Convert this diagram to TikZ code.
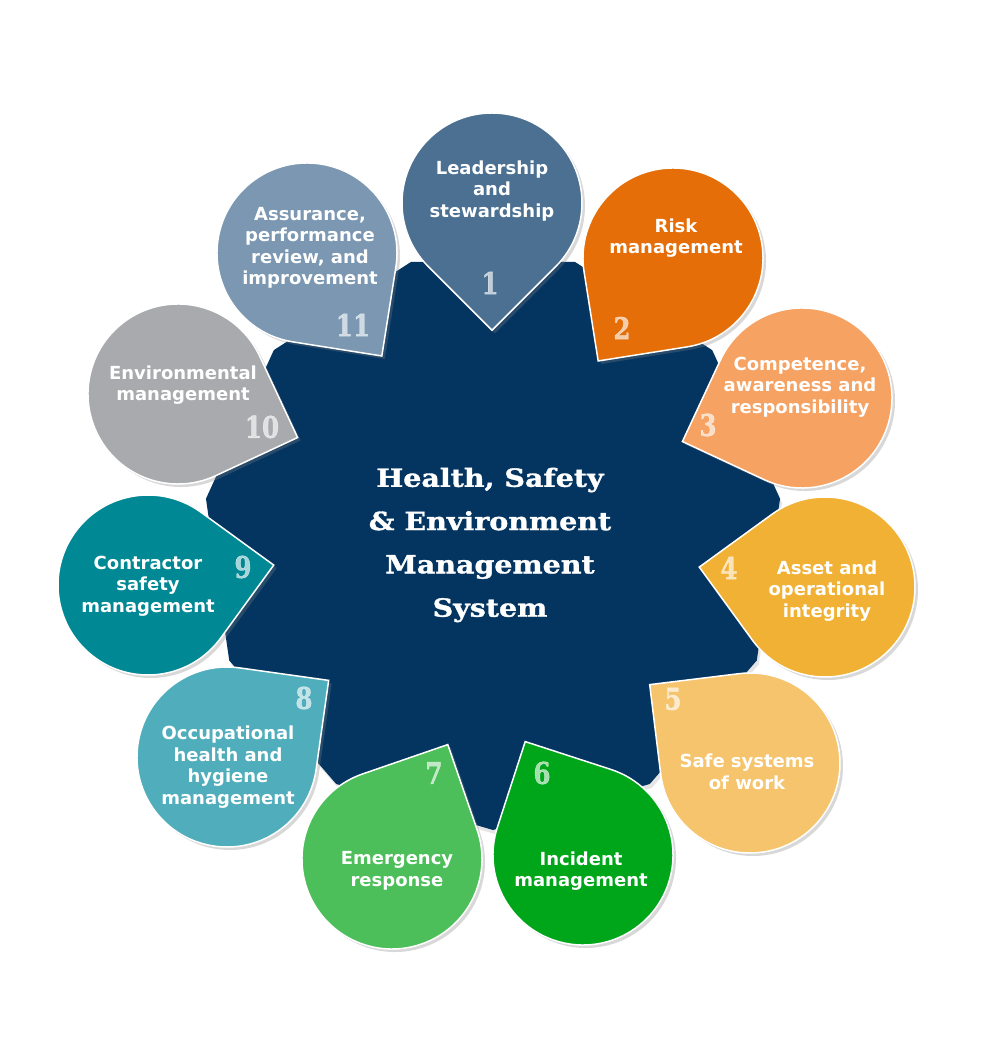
\documentclass[tikz,border=0pt]{standalone}
\usepackage{fontspec}
\setmainfont{DejaVu Sans}
\newfontfamily\hsetitle{DejaVu Serif Bold}[FakeBold=1.2]
\usetikzlibrary{shadows}
\definecolor{hsenavy}{RGB}{4,53,97}
\definecolor{hseone}{RGB}{75,112,146}
\definecolor{hsetwo}{RGB}{229,110,8}
\definecolor{hsethree}{RGB}{245,162,99}
\definecolor{hsefour}{RGB}{241,177,52}
\definecolor{hsefive}{RGB}{246,196,108}
\definecolor{hsesix}{RGB}{0,166,25}
\definecolor{hseseven}{RGB}{76,190,90}
\definecolor{hseeight}{RGB}{80,174,188}
\definecolor{hsenine}{RGB}{0,136,148}
\definecolor{hseten}{RGB}{169,170,173}
\definecolor{hseeleven}{RGB}{123,151,178}
\tikzset{
  petal/.style={fill=#1, draw=white, line width=1.5pt,
    drop shadow={shadow xshift=3pt, shadow yshift=-3pt, opacity=0.3}},
  petaltext/.style={text=white, align=center, font=\bfseries\fontsize{18}{21.5}\selectfont},
  petalnum/.style={text=white, text opacity=0.65, xscale=0.82, font=\hsetitle\fontsize{30}{30}\selectfont},
  titletext/.style={text=white, align=center, xscale=1.14, font=\hsetitle\fontsize{25}{43.3}\selectfont}
}
\begin{document}
\begin{tikzpicture}[x=1pt,y=1pt]
\def\petal{(127.3,0) -- (45:90) arc[start angle=45, end angle=315, radius=90] -- cycle}
\fill[white] (-493,-524) rectangle (507,540);
\useasboundingbox (-493,-524) rectangle (507,540);
% centre: eleven sided plate
\fill[hsenavy, drop shadow={shadow xshift=2pt, shadow yshift=-4pt, opacity=0.2}]
  (-90:290) \foreach \k in {1,...,10} { -- (-90+\k*32.7273:290) } -- cycle;
\node[titletext] (title) at (-3,-5) {Health, Safety\\\& Environment\\Management\\System};
% petals: number / centre / tip angle / colour / number position
\foreach \i/\cx/\cy/\tip/\col/\nx/\ny in {
  1/-1/337/-90/hseone/-3/257, 2/180/282/-126/hsetwo/129/212,
  3/309/142/-160/hsethree/215/115, 4/332/-47/171/hsefour/236/-28,
  5/257/-223/142/hsefive/180/-159, 6/90/-315/117/hsesix/49/-233,
  7/-101/-319/64/hseseven/-59/-233, 8/-266/-217/37/hseeight/-189/-158,
  9/-345/-45/9/hsenine/-250/-27, 10/-315/146/-20/hseten/-231/113,
  11/-186/287/-54/hseeleven/-140/215} {
  \filldraw[petal=\col, shift={(\cx,\cy)}, rotate=\tip] \petal;
  \node[petalnum] (n\i) at (\nx,\ny) {\i};
}
\node[petaltext] (t1) at (-1,349) {Leadership\\and\\stewardship};
\node[petaltext] (t2) at (183,302) {Risk\\management};
\node[petaltext] (t3) at (307,153) {Competence,\\awareness and\\responsibility};
\node[petaltext] (t4) at (334,-51) {Asset and\\operational\\integrity};
\node[petaltext] (t5) at (254,-232) {Safe systems\\of work};
\node[petaltext] (t6) at (88,-331) {Incident\\management};
\node[petaltext] (t7) at (-96,-331) {Emergency\\response};
\node[petaltext] (t8) at (-265,-227) {Occupational\\health and\\hygiene\\management};
\node[petaltext] (t9) at (-345,-46) {Contractor\\safety\\management};
\node[petaltext] (t10) at (-310,155) {Environmental\\management};
\node[petaltext] (t11) at (-183,292) {Assurance,\\performance\\review, and\\improvement};
\end{tikzpicture}
\end{document}
